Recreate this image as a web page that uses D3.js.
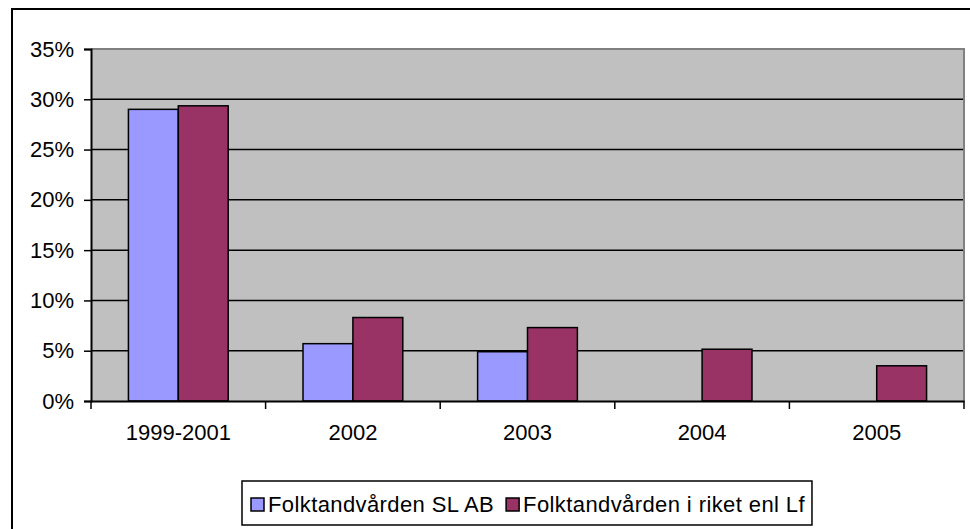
<!DOCTYPE html>
<html>
<head>
<meta charset="utf-8">
<script src="https://cdn.jsdelivr.net/npm/d3@7"></script>
<style>
  body { margin: 0; background: #fff; }
  svg text { font-family: Arial, "Liberation Sans", sans-serif; fill: #000; }
</style>
</head>
<body>
<svg id="chart" width="970" height="529"></svg>
<script>
const categories = ["1999-2001", "2002", "2003", "2004", "2005"];
const seriesNames = ["Folktandvården SL AB", "Folktandvården i riket enl Lf"];
const slValues = [29.0, 5.7, 4.9, null, null];
const riketValues = [29.35, 8.3, 7.3, 5.15, 3.5];
const yTicks = [0, 5, 10, 15, 20, 25, 30, 35];
const colors = ["#9999ff", "#993366"];

const svg = d3.select("#chart");
const plot = { left: 91, top: 49, right: 964, bottom: 401 };
const fontSize = 22;

// outer chart border
svg.append("rect")
    .attr("x", 12).attr("y", 9)
    .attr("width", 970).attr("height", 540)
    .attr("fill", "none")
    .attr("stroke", "#000")
    .attr("stroke-width", 2);

const x = d3.scaleBand()
    .domain(categories)
    .range([plot.left, plot.right]);

// gap width 150% like excel
const bw = x.bandwidth() / 3.5;
const x1 = d3.scaleBand()
    .domain(seriesNames)
    .range([x.bandwidth() / 2 - bw, x.bandwidth() / 2 + bw]);

const y = d3.scaleLinear()
    .domain([0, 35])
    .range([plot.bottom, plot.top]);

// plot background
svg.append("rect")
    .attr("x", plot.left).attr("y", plot.top)
    .attr("width", plot.right - plot.left)
    .attr("height", plot.bottom - plot.top)
    .attr("fill", "#c0c0c0");

// gridlines
svg.append("g")
    .selectAll("line")
    .data(yTicks.filter(d => d > 0 && d < 35))
    .join("line")
    .attr("x1", plot.left).attr("x2", plot.right)
    .attr("y1", d => y(d)).attr("y2", d => y(d))
    .attr("stroke", "#000")
    .attr("stroke-width", 1.5);

// plot border top/right in grey
svg.append("path")
    .attr("d", `M${plot.left},${plot.top}H${plot.right}V${plot.bottom}`)
    .attr("fill", "none")
    .attr("stroke", "#808080")
    .attr("stroke-width", 2);

const rows = categories.map((c, i) => ({ cat: c, values: [slValues[i], riketValues[i]] }));

const groups = svg.append("g")
    .selectAll("g")
    .data(rows)
    .join("g")
    .attr("transform", d => `translate(${x(d.cat)},0)`);

groups.selectAll("rect")
    .data(d => d.values.map((v, j) => ({ name: seriesNames[j], v, j })).filter(d => d.v != null))
    .join("rect")
    .attr("x", d => x1(d.name))
    .attr("width", x1.bandwidth())
    .attr("y", d => y(d.v))
    .attr("height", d => y(0) - y(d.v))
    .attr("fill", d => colors[d.j])
    .attr("stroke", "#000")
    .attr("stroke-width", 1.5);

// y axis
const yAxis = svg.append("g")
    .attr("transform", `translate(${plot.left},0)`)
    .call(d3.axisLeft(y).tickValues(yTicks).tickSize(7).tickPadding(10).tickFormat(d => d + "%"));
yAxis.select(".domain").attr("stroke", "#000").attr("stroke-width", 2);
yAxis.selectAll(".tick line").attr("stroke", "#000").attr("stroke-width", 1.5);
yAxis.selectAll("text").attr("font-size", fontSize).attr("font-family", "Arial, 'Liberation Sans', sans-serif");

// x axis
const xAxis = svg.append("g")
    .attr("transform", `translate(0,${plot.bottom})`)
    .call(d3.axisBottom(x).tickSize(0).tickPadding(23));
xAxis.select(".domain").attr("stroke", "#000").attr("stroke-width", 2);
xAxis.selectAll("text").attr("font-size", fontSize).attr("font-family", "Arial, 'Liberation Sans', sans-serif");

// boundary ticks between categories
svg.append("g")
    .selectAll("line")
    .data(categories.concat(["end"]))
    .join("line")
    .attr("x1", (d, i) => i < categories.length ? x(d) : plot.right)
    .attr("x2", (d, i) => i < categories.length ? x(d) : plot.right)
    .attr("y1", plot.bottom).attr("y2", plot.bottom + 8)
    .attr("stroke", "#000")
    .attr("stroke-width", 1.5);

// legend
const legend = svg.append("g").attr("transform", "translate(242,481)");
const legendBox = legend.append("rect")
    .attr("height", 44)
    .attr("fill", "#fff")
    .attr("stroke", "#000")
    .attr("stroke-width", 1.5);

let lx = 9;
seriesNames.forEach((name, j) => {
    legend.append("rect")
        .attr("x", lx).attr("y", 17)
        .attr("width", 13).attr("height", 13)
        .attr("fill", colors[j])
        .attr("stroke", "#000")
        .attr("stroke-width", 1.5);
    const t = legend.append("text")
        .attr("x", lx + 17).attr("y", 31)
        .attr("font-size", fontSize)
        .attr("letter-spacing", 0.4)
        .text(name);
    lx += 17 + t.node().getComputedTextLength() + 12;
});
legendBox.attr("width", lx - 5);
</script>
</body>
</html>
